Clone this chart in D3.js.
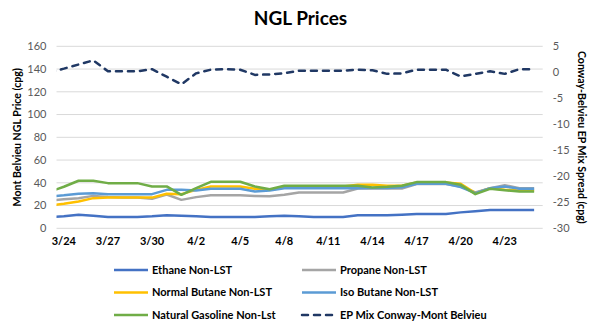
<!DOCTYPE html>
<html>
<head>
<meta charset="utf-8">
<script src="https://cdn.jsdelivr.net/npm/d3@7"></script>
<style>
  body { margin: 0; background: #fff; }
  svg { display: block; font-family: Lato, "Open Sans", sans-serif; }
</style>
</head>
<body>
<div id="chart"></div>
<script>
// daily values, 3/23 - 4/25 (the first and last day sit just outside the axis range)
const dates = ["3/23", "3/24", "3/25", "3/26", "3/27", "3/28", "3/29", "3/30", "3/31",
  "4/1", "4/2", "4/3", "4/4", "4/5", "4/6", "4/7", "4/8", "4/9", "4/10", "4/11", "4/12",
  "4/13", "4/14", "4/15", "4/16", "4/17", "4/18", "4/19", "4/20", "4/21", "4/22", "4/23",
  "4/24", "4/25"];

const ethane = [10, 10.5, 12, 11, 10, 10, 10, 10.5, 11.5,
  11, 10.5, 10, 10, 10, 10, 10.5, 11, 10.5, 10, 10, 10,
  11.5, 11.5, 11.5, 12, 12.5, 12.5, 12.5, 14, 15, 16, 16, 16, 16];
const propane = [24.5, 25.5, 26.5, 28.5, 27.5, 27, 27, 26, 29.7,
  25, 27.4, 29, 29, 29, 28.5, 28.2, 29.5, 31.5, 31.5, 31.5, 31.5,
  35, 35, 35, 35, 39, 39, 39, 36.8, 31.5, 35.3, 37.9, 35.3, 35.3];
const normalButane = [20, 21.5, 23.5, 26.5, 27, 27, 27, 27, 30.3,
  30, 33.8, 36.8, 36.8, 36.8, 34.7, 33.8, 35.9, 36.8, 36.8, 36.8, 36.8,
  38.2, 38.2, 37.5, 37.4, 40.3, 40.3, 40.3, 39.1, 30.9, 35.3, 34, 33.2, 33.2];
const isoButane = [28, 29, 30.3, 30.9, 30, 30, 30, 30, 33.8,
  33.8, 33.2, 34.7, 34.7, 34.7, 32.4, 33.2, 35.3, 35.3, 35.3, 35.3, 35.3,
  35.3, 35.5, 35.5, 36, 39.1, 39.1, 39.1, 36.2, 30.9, 35.3, 36.8, 34.7, 34.7];
const naturalGasoline = [32, 36.5, 41.8, 41.8, 39.7, 39.7, 39.7, 36.8, 36.8,
  29.4, 35.3, 40.9, 40.9, 40.9, 36.8, 34.4, 37.4, 37.4, 37.4, 37.4, 37.4,
  37.4, 35.9, 36.5, 37.4, 40.6, 40.6, 40.6, 38.2, 30, 34.7, 33.5, 32.4, 32.4];
const epMixSpread = [0, 0.7, 1.5, 2.3, 0.2, 0.2, 0.2, 0.6, -0.85,
  -2.3, -0.2, 0.5, 0.6, 0.5, -0.5, -0.4, -0.2, 0.3, 0.3, 0.3, 0.3,
  0.5, 0.4, -0.3, -0.2, 0.5, 0.5, 0.5, -0.8, -0.3, 0.2, -0.3, 0.6, 0.6];

const leftTicks = [0, 20, 40, 60, 80, 100, 120, 140, 160];
const rightTicks = [5, 0, -5, -10, -15, -20, -25, -30];
const xTickLabels = ["3/24", "3/27", "3/30", "4/2", "4/5", "4/8", "4/11", "4/14", "4/17", "4/20", "4/23"];

const series = [
  { name: "Ethane Non-LST", values: ethane, color: "#4472C4" },
  { name: "Propane Non-LST", values: propane, color: "#A5A5A5" },
  { name: "Normal Butane Non-LST", values: normalButane, color: "#FFC000" },
  { name: "Iso Butane Non-LST", values: isoButane, color: "#5B9BD5" },
  { name: "Natural Gasoline Non-Lst", values: naturalGasoline, color: "#70AD47" },
  { name: "EP Mix Conway-Mont Belvieu", values: epMixSpread, color: "#203864", dashed: true, right: true }
];

const parseDay = s => d3.timeParse("%m/%d/%Y")(s + "/2020");

const margin = { top: 46.3, right: 58.3, bottom: 96.7, left: 56.5 };
const W = 601, H = 325;
const width = W - margin.left - margin.right;
const height = H - margin.top - margin.bottom;

const svg = d3.select("#chart").append("svg")
  .attr("width", W)
  .attr("height", H);

const g = svg.append("g")
  .attr("transform", `translate(${margin.left},${margin.top})`);

const x = d3.scaleTime()
  .domain([d3.timeHour.offset(parseDay("3/23"), 12), d3.timeHour.offset(parseDay("4/25"), 14)])
  .range([0, width]);
const yLeft = d3.scaleLinear().domain([0, 160]).range([height, 0]);
const yRight = d3.scaleLinear().domain([-30, 5]).range([height, 0]);

// gridlines
g.append("g")
  .selectAll("line")
  .data(leftTicks)
  .join("line")
  .attr("x1", 0)
  .attr("x2", width)
  .attr("y1", d => yLeft(d))
  .attr("y2", d => yLeft(d))
  .attr("stroke", "#d9d9d9")
  .attr("stroke-width", 1);

// left axis labels
g.append("g")
  .selectAll("text")
  .data(leftTicks)
  .join("text")
  .attr("x", -10)
  .attr("y", d => yLeft(d))
  .attr("dy", "0.35em")
  .attr("text-anchor", "end")
  .attr("fill", "#595959")
  .style("font-size", "11px")
  .text(d => d);

// right axis labels
g.append("g")
  .selectAll("text")
  .data(rightTicks)
  .join("text")
  .attr("x", width + 10)
  .attr("y", d => yRight(d))
  .attr("dy", "0.35em")
  .attr("text-anchor", "start")
  .attr("fill", "#595959")
  .style("font-size", "11px")
  .text(d => d);

// x labels
g.append("g")
  .selectAll("text")
  .data(xTickLabels)
  .join("text")
  .attr("x", d => x(parseDay(d)))
  .attr("y", height + 17)
  .attr("text-anchor", "middle")
  .attr("fill", "#000")
  .style("font-size", "11px")
  .style("font-weight", "bold")
  .text(d => d);

// axis titles
svg.append("text")
  .attr("transform", `translate(21,${margin.top + height / 2}) rotate(-90)`)
  .attr("text-anchor", "middle")
  .style("font-size", "10.6px")
  .style("font-weight", "bold")
  .text("Mont Belvieu NGL Price (cpg)");

svg.append("text")
  .attr("transform", `translate(578,${margin.top + height / 2}) rotate(90)`)
  .attr("text-anchor", "middle")
  .style("font-size", "10.6px")
  .style("font-weight", "bold")
  .text("Conway-Belvieu EP Mix Spread (cpg)");

svg.append("text")
  .attr("x", W / 2)
  .attr("y", 25)
  .attr("text-anchor", "middle")
  .style("font-size", "19px")
  .style("font-weight", "bold")
  .text("NGL Prices");

// lines, clipped to plot area
svg.append("clipPath")
  .attr("id", "plot-clip")
  .append("rect")
  .attr("width", width)
  .attr("height", height + 5)
  .attr("y", -5);

const lines = g.append("g").attr("clip-path", "url(#plot-clip)");

series.forEach(s => {
  const yScale = s.right ? yRight : yLeft;
  const line = d3.line()
    .x((d, i) => x(parseDay(dates[i])))
    .y(d => yScale(d));
  lines.append("path")
    .datum(s.values)
    .attr("fill", "none")
    .attr("stroke", s.color)
    .attr("stroke-width", 2.5)
    .attr("stroke-linejoin", "round")
    .attr("stroke-linecap", s.dashed ? "round" : "butt")
    .attr("stroke-dasharray", s.dashed ? "6,6" : null)
    .attr("d", line);
});

// legend
const legend = svg.append("g");
const legendItems = legend.selectAll("g")
  .data(series)
  .join("g")
  .attr("transform", (d, i) => `translate(${i % 2 === 0 ? 114 : 302},${270 + Math.floor(i / 2) * 22.5})`);

legendItems.append("line")
  .attr("x1", 0)
  .attr("x2", 34)
  .attr("stroke", d => d.color)
  .attr("stroke-width", 2.5)
  .attr("stroke-linecap", d => d.dashed ? "round" : "butt")
  .attr("stroke-dasharray", d => d.dashed ? "6,6" : null);

legendItems.append("text")
  .attr("x", 38)
  .attr("dy", "0.35em")
  .style("font-size", "11px")
  .style("font-weight", "bold")
  .text(d => d.name);
</script>
</body>
</html>
